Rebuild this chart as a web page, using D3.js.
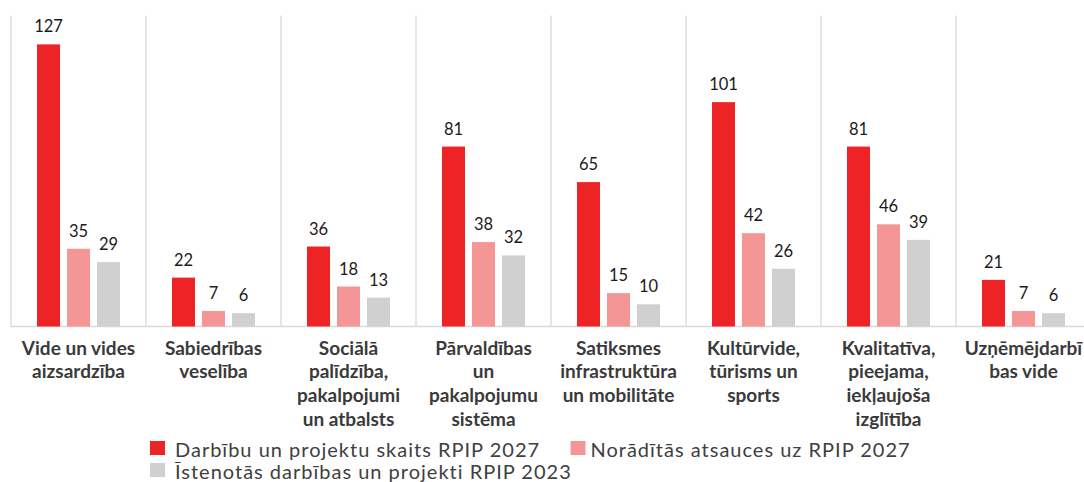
<!DOCTYPE html>
<html><head><meta charset="utf-8">
<script src="https://cdn.jsdelivr.net/npm/d3@7"></script>
<style>body{margin:0;background:#fff;overflow:hidden}svg{display:block}</style>
</head><body>
<svg id="c" width="1084" height="482"></svg>
<script>
const categories = [
  ["Vide un vides","aizsardzība"],
  ["Sabiedrības","veselība"],
  ["Sociālā","palīdzība,","pakalpojumi","un atbalsts"],
  ["Pārvaldības","un","pakalpojumu","sistēma"],
  ["Satiksmes","infrastruktūra","un mobilitāte"],
  ["Kultūrvide,","tūrisms un","sports"],
  ["Kvalitatīva,","pieejama,","iekļaujoša","izglītība"],
  ["Uzņēmējdarbī","bas vide"]
];
const seriesNames = ["Darbību un projektu skaits RPIP 2027","Norādītās atsauces uz RPIP 2027","Īstenotās darbības un projekti RPIP 2023"];
const actions2027 = [127,22,36,81,65,101,81,21];
const references2027 = [35,7,18,38,15,42,46,7];
const implemented2023 = [29,6,13,32,10,26,39,6];
const colors = ["#EE2326","#F49696","#D0D0D0"];

const series = [actions2027, references2027, implemented2023];
const svg = d3.select("#c");
const x = d3.scaleBand().domain(d3.range(categories.length)).range([11, 11+135*categories.length]).padding(0);
const x1 = d3.scaleBand().domain(d3.range(3)).range([-41.5, 41.5]).paddingInner(7/30).paddingOuter(0);
const y = d3.scaleLinear().domain([0,140]).range([326.5, 15.5]);

// separators
svg.append("g").selectAll("line").data(d3.range(categories.length+1)).join("line")
  .attr("x1", i => i < categories.length ? x(i) : x(categories.length-1)+x.bandwidth())
  .attr("x2", i => i < categories.length ? x(i) : x(categories.length-1)+x.bandwidth())
  .attr("y1", y(140)).attr("y2", y(0))
  .attr("stroke", "#D9D9D9").attr("stroke-width", 1.3);
// baseline
svg.append("line").attr("x1", 11).attr("x2", 1084).attr("y1", y(0)).attr("y2", y(0))
  .attr("stroke", "#D9D9D9").attr("stroke-width", 1.5);

const groups = svg.append("g").selectAll("g").data(categories).join("g")
  .attr("transform", (d,i) => `translate(${x(i)+x.bandwidth()/2},0)`);
groups.each(function(d, ci) {
  const g = d3.select(this);
  series.forEach((s, si) => {
    g.append("rect").attr("x", x1(si)).attr("width", x1.bandwidth())
      .attr("y", y(s[ci])).attr("height", y(0)-y(s[ci])).attr("fill", colors[si]);
    g.append("text").attr("x", x1(si)+x1.bandwidth()/2).attr("y", y(s[ci])-12)
      .attr("text-anchor","middle").attr("font-family","Lato, sans-serif").attr("font-size", 16.5)
      .attr("fill","#1a1a1a").text(s[ci]);
  });
  const t = g.append("text").attr("text-anchor","middle").attr("font-family","Lato, sans-serif")
    .attr("font-weight", 700).attr("font-size", 19).attr("fill","#3a3a3a");
  d.forEach((line, li) => t.append("tspan").attr("x", 0).attr("y", 354.5 + li*23.8).text(line));
});

// legend
const legendPos = [[150, 441, 25], [570.5, 441, 20], [150, 463, 25]];
const lg = svg.append("g").selectAll("g").data(seriesNames).join("g")
  .attr("transform", (d,i) => `translate(${legendPos[i][0]},${legendPos[i][1]})`);
lg.append("rect").attr("width", 15).attr("height", 14).attr("fill", (d,i) => colors[i]);
lg.append("text").attr("x", (d,i) => legendPos[i][2]).attr("y", 15.5).attr("font-family","Lato, sans-serif")
  .attr("font-size", 20).attr("letter-spacing", 1).attr("fill","#404040").text(d => d);
</script>
</body></html>
